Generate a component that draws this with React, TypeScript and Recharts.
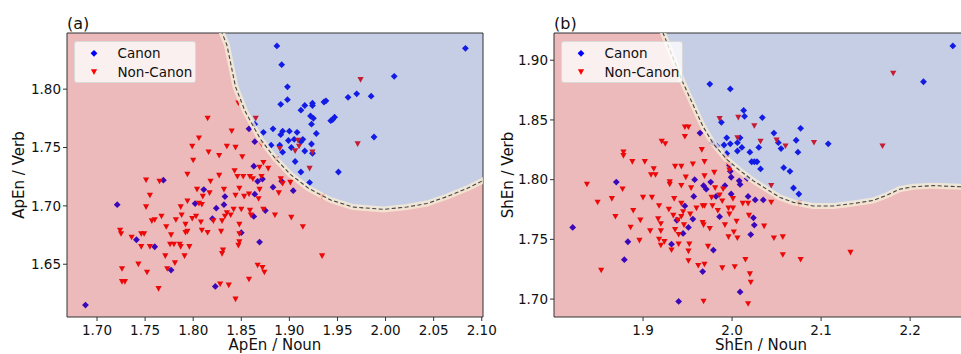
import React from "react";
import { Area, ComposedChart, Line, ReferenceArea, Scatter, XAxis, YAxis } from "recharts";

const FONT = '"DejaVu Sans", sans-serif';

// panel (a): ApEn
const canonA = [
  [1.887, 1.837], [2.083, 1.835], [1.892, 1.821], [2.009, 1.811], [1.898, 1.802], [1.97, 1.796],
  [1.961, 1.793], [1.985, 1.794], [1.898, 1.791], [1.891, 1.787], [1.916, 1.786], [1.924, 1.788],
  [1.924, 1.786], [1.936, 1.789], [1.938, 1.79], [1.912, 1.782], [1.922, 1.777], [1.925, 1.775],
  [1.947, 1.776], [1.945, 1.774], [1.943, 1.773], [1.923, 1.77], [1.864, 1.77], [1.858, 1.766],
  [1.873, 1.763], [1.883, 1.766], [1.893, 1.764], [1.9, 1.764], [1.908, 1.763], [1.928, 1.762],
  [1.891, 1.761], [1.988, 1.759], [1.864, 1.755], [1.899, 1.756], [1.905, 1.757], [1.914, 1.757],
  [1.912, 1.755], [1.881, 1.752], [1.923, 1.753], [1.89, 1.752], [1.902, 1.75], [1.893, 1.746],
  [1.916, 1.747], [1.924, 1.745], [1.906, 1.738], [1.863, 1.734], [1.912, 1.729], [1.951, 1.729],
  [1.872, 1.723], [1.867, 1.721], [1.892, 1.721], [1.921, 1.72], [1.883, 1.716], [1.904, 1.713],
  [1.833, 1.708], [1.864, 1.71], [1.832, 1.701], [1.875, 1.696], [1.863, 1.691], [1.769, 1.722],
  [1.811, 1.714], [1.802, 1.702], [1.721, 1.701], [1.824, 1.698], [1.82, 1.689], [1.741, 1.671],
  [1.76, 1.665], [1.85, 1.677], [1.869, 1.669], [1.777, 1.645], [1.823, 1.631], [1.688, 1.615],
];

const nonCanonA = [
  [1.815, 1.775], [1.806, 1.758], [1.974, 1.808], [1.847, 1.788], [1.865, 1.775], [1.84, 1.764],
  [1.909, 1.756], [1.871, 1.753], [1.971, 1.753], [1.835, 1.751], [1.844, 1.75], [1.89, 1.749],
  [1.91, 1.751], [1.906, 1.747], [1.924, 1.746], [1.886, 1.74], [1.851, 1.742], [1.873, 1.737],
  [1.921, 1.732], [1.869, 1.733], [1.878, 1.732], [1.843, 1.73], [1.846, 1.725], [1.859, 1.725],
  [1.852, 1.725], [1.862, 1.723], [1.871, 1.725], [1.891, 1.723], [1.893, 1.719], [1.901, 1.72],
  [1.832, 1.714], [1.848, 1.715], [1.858, 1.71], [1.869, 1.714], [1.889, 1.711], [1.844, 1.709],
  [1.853, 1.708], [1.868, 1.706], [1.934, 1.708], [1.842, 1.697], [1.85, 1.697], [1.859, 1.696],
  [1.873, 1.697], [1.835, 1.694], [1.833, 1.691], [1.839, 1.692], [1.86, 1.692], [1.885, 1.692],
  [1.902, 1.69], [1.848, 1.684], [1.83, 1.687], [1.799, 1.751], [1.816, 1.746], [1.827, 1.743],
  [1.8, 1.739], [1.794, 1.727], [1.751, 1.722], [1.765, 1.721], [1.818, 1.721], [1.827, 1.726],
  [1.755, 1.709], [1.804, 1.714], [1.817, 1.711], [1.794, 1.704], [1.806, 1.702], [1.809, 1.701],
  [1.81, 1.708], [1.751, 1.699], [1.787, 1.699], [1.767, 1.691], [1.757, 1.687], [1.76, 1.688],
  [1.782, 1.688], [1.788, 1.692], [1.799, 1.689], [1.803, 1.691], [1.808, 1.686], [1.821, 1.687],
  [1.772, 1.682], [1.792, 1.684], [1.724, 1.679], [1.725, 1.676], [1.746, 1.676], [1.749, 1.676],
  [1.777, 1.675], [1.794, 1.678], [1.792, 1.677], [1.809, 1.679], [1.815, 1.677], [1.829, 1.678],
  [1.914, 1.682], [1.736, 1.673], [1.746, 1.665], [1.755, 1.665], [1.776, 1.667], [1.78, 1.667],
  [1.786, 1.667], [1.787, 1.665], [1.796, 1.665], [1.848, 1.676], [1.848, 1.669], [1.847, 1.666],
  [1.831, 1.662], [1.83, 1.659], [1.771, 1.657], [1.791, 1.657], [1.934, 1.657], [1.743, 1.65],
  [1.781, 1.651], [1.726, 1.646], [1.773, 1.646], [1.752, 1.643], [1.867, 1.649], [1.872, 1.647],
  [1.874, 1.643], [1.726, 1.635], [1.729, 1.635], [1.858, 1.637], [1.828, 1.633], [1.837, 1.632],
  [1.764, 1.629], [1.844, 1.62],
];

const boundaryA = [
  [1.828, 1.852], [1.83, 1.848], [1.835, 1.838], [1.844, 1.802], [1.854, 1.781], [1.87, 1.757],
  [1.885, 1.741], [1.901, 1.727], [1.92, 1.715], [1.943, 1.705], [1.966, 1.699], [1.998, 1.697],
  [2.022, 1.699], [2.043, 1.702], [2.064, 1.708], [2.085, 1.715], [2.102, 1.722], [2.11, 1.726],
];

// panel (b): ShEn
const canonB = [
  [2.248, 1.912], [2.215, 1.882], [1.975, 1.88], [1.998, 1.876], [2.013, 1.858], [2.014, 1.853],
  [2.034, 1.852], [1.988, 1.848], [2.077, 1.843], [1.964, 1.839], [2.047, 1.839], [1.994, 1.835],
  [2.009, 1.835], [2.072, 1.833], [1.978, 1.831], [1.983, 1.828], [1.991, 1.829], [1.998, 1.83],
  [2.006, 1.831], [2.052, 1.831], [2.108, 1.83], [2.011, 1.827], [2.006, 1.824], [2.03, 1.827],
  [2.055, 1.826], [2.02, 1.823], [2.074, 1.823], [1.994, 1.822], [2.022, 1.815], [2.028, 1.815],
  [2.025, 1.815], [1.997, 1.812], [2.058, 1.81], [2.065, 1.807], [2.032, 1.809], [1.998, 1.807],
  [1.999, 1.802], [2.017, 1.801], [1.958, 1.8], [1.976, 1.798], [2.008, 1.799], [2.009, 1.796],
  [1.968, 1.795], [1.992, 1.795], [1.971, 1.792], [2.069, 1.793], [2.075, 1.788], [1.947, 1.778],
  [1.957, 1.786], [1.982, 1.786], [1.999, 1.788], [2.018, 1.786], [2.026, 1.783], [2.035, 1.783],
  [1.986, 1.769], [2.024, 1.768], [1.956, 1.767], [1.87, 1.798], [1.938, 1.766], [1.821, 1.76],
  [1.879, 1.733], [1.883, 1.748], [1.932, 1.746], [1.945, 1.755], [1.951, 1.76], [1.967, 1.723],
  [1.979, 1.741], [1.94, 1.698], [2.009, 1.706], [2.021, 1.754], [2.025, 1.762],
];

const nonCanonB = [
  [2.181, 1.889], [1.986, 1.851], [2.007, 1.852], [2.025, 1.845], [1.947, 1.844], [1.951, 1.844],
  [1.947, 1.836], [2.006, 1.835], [2.032, 1.832], [2.05, 1.833], [2.06, 1.828], [2.092, 1.831],
  [2.169, 1.828], [1.966, 1.825], [1.993, 1.818], [1.969, 1.815], [1.956, 1.813], [1.943, 1.811],
  [1.996, 1.813], [1.997, 1.808], [1.98, 1.806], [1.948, 1.802], [1.969, 1.803], [1.943, 1.795],
  [1.954, 1.793], [1.981, 1.793], [1.99, 1.792], [2.044, 1.795], [1.986, 1.787], [2.001, 1.784],
  [1.977, 1.785], [1.943, 1.78], [1.967, 1.778], [1.989, 1.782], [1.996, 1.776], [2.001, 1.776],
  [2.012, 1.78], [2.018, 1.78], [2.044, 1.781], [2.075, 1.78], [1.945, 1.773], [1.96, 1.776],
  [1.969, 1.778], [1.978, 1.778], [1.984, 1.774], [1.997, 1.771], [2.019, 1.77], [2.005, 1.765],
  [1.953, 1.771], [1.943, 1.769], [1.967, 1.764], [1.878, 1.823], [1.878, 1.82], [1.921, 1.832],
  [1.925, 1.83], [1.888, 1.815], [1.902, 1.815], [1.912, 1.809], [1.909, 1.804], [1.914, 1.804],
  [1.936, 1.811], [1.837, 1.796], [1.849, 1.781], [1.865, 1.784], [1.877, 1.792], [1.869, 1.769],
  [1.889, 1.774], [1.9, 1.785], [1.91, 1.785], [1.918, 1.778], [1.93, 1.798], [1.93, 1.796],
  [1.935, 1.784], [1.929, 1.775], [1.934, 1.77], [1.939, 1.766], [1.897, 1.766], [1.917, 1.767],
  [1.853, 1.724], [1.886, 1.76], [1.896, 1.749], [1.908, 1.757], [1.92, 1.757], [1.918, 1.75],
  [1.924, 1.748], [1.936, 1.758], [1.94, 1.754], [1.94, 1.746], [1.952, 1.746], [1.951, 1.74],
  [1.951, 1.732], [1.962, 1.728], [1.969, 1.729], [1.973, 1.744], [1.989, 1.726], [1.968, 1.698],
  [2.003, 1.727], [1.996, 1.752], [2.002, 1.756], [2.006, 1.751], [2.015, 1.733], [2.02, 1.721],
  [2.021, 1.714], [2.018, 1.696], [2.036, 1.761], [2.047, 1.751], [2.057, 1.752], [2.057, 1.737],
  [2.077, 1.733], [1.992, 1.762], [1.975, 1.759], [1.968, 1.762], [1.92, 1.763], [1.946, 1.762],
  [1.92, 1.745], [1.932, 1.741], [2.133, 1.739],
];

const boundaryB = [
  [1.92, 1.926], [1.9225, 1.9228], [1.945, 1.881], [1.967, 1.845], [1.979, 1.83], [1.994, 1.817],
  [2.009, 1.8075], [2.024, 1.799], [2.039, 1.792], [2.054, 1.785], [2.069, 1.781], [2.091, 1.778],
  [2.114, 1.778], [2.136, 1.78], [2.158, 1.7825], [2.174, 1.787], [2.188, 1.792], [2.203, 1.794],
  [2.226, 1.795], [2.257, 1.794], [2.275, 1.793],
];

const xTicksA = [1.7, 1.75, 1.8, 1.85, 1.9, 1.95, 2.0, 2.05, 2.1];
const yTicksA = [1.65, 1.7, 1.75, 1.8];
const xTicksB = [1.9, 2.0, 2.1, 2.2];
const yTicksB = [1.7, 1.75, 1.8, 1.85, 1.9];

const toPts = (arr: number[][]) => arr.map(([x, y]) => ({ x, y }));

// region table: red below the boundary, blue above it
function buildRows(boundary: number[][], xDomain: number[], yDomain: number[]) {
  const lo = yDomain[0] - 0.02;
  const hi = yDomain[1] + 0.02;
  const rows = [{ x: xDomain[0] - 0.02, b: hi, red: [lo, hi], blue: [hi, hi] }];
  boundary.forEach(([x, y]) => rows.push({ x, b: y, red: [lo, y], blue: [y, hi] }));
  return rows;
}

const Diamond = (props: any) => {
  const { cx, cy } = props;
  const r = 3.4;
  return <path d={`M${cx},${cy - r}L${cx + r},${cy}L${cx},${cy + r}L${cx - r},${cy}Z`} fill="#0000ff" />;
};

const TriDown = (props: any) => {
  const { cx, cy } = props;
  return <path d={`M${cx - 3.1},${cy - 2.7}L${cx + 3.1},${cy - 2.7}L${cx},${cy + 2.9}Z`} fill="#ff0000" />;
};

function LegendBox({ left }: { left: number }) {
  const text = { position: "absolute" as const, left: 43, fontSize: 13.5, lineHeight: "14px", color: "#111" };
  return (
    <div
      style={{
        position: "absolute",
        left,
        top: 41,
        width: 122,
        height: 42,
        boxSizing: "border-box",
        background: "rgba(255,255,255,0.78)",
        border: "1px solid rgba(210,210,210,0.8)",
        borderRadius: 3,
        fontFamily: FONT,
      }}
    >
      <svg width={20} height={40} style={{ position: "absolute", left: 9, top: 0 }}>
        <Diamond cx={10} cy={11.3} />
        <TriDown cx={10} cy={30} />
      </svg>
      <span style={{ ...text, top: 4 }}>Canon</span>
      <span style={{ ...text, top: 23 }}>Non-Canon</span>
    </div>
  );
}

function Panel(p: any) {
  const rows = buildRows(p.boundary, p.xDomain, p.yDomain);
  const tick = { fill: "#111", fontSize: 13.5, fontFamily: FONT };
  const labelStyle = { fill: "#111", fontSize: 15, fontFamily: FONT };
  return (
    <div style={{ position: "absolute", left: p.left, top: 0, width: p.width, height: 354 }}>
      <ComposedChart width={p.width} height={354} data={rows} margin={{ top: 33, right: p.marginRight, bottom: 0, left: 0 }}>
        <XAxis
          type="number"
          dataKey="x"
          domain={p.xDomain}
          ticks={p.xTicks}
          interval={0}
          allowDataOverflow
          tickFormatter={(v: number) => v.toFixed(p.xDigits)}
          axisLine={false}
          tickLine={{ stroke: "#333" }}
          tickSize={4}
          tickMargin={4}
          height={37}
          tick={tick}
          label={{ value: p.xLabel, position: "insideBottom", offset: 4, style: labelStyle }}
        />
        <YAxis
          type="number"
          domain={p.yDomain}
          ticks={p.yTicks}
          interval={0}
          allowDataOverflow
          tickFormatter={(v: number) => v.toFixed(2)}
          axisLine={false}
          tickLine={{ stroke: "#333" }}
          tickSize={4}
          tickMargin={2}
          width={p.yWidth}
          tick={tick}
          label={{ value: p.yLabel, angle: -90, position: "insideLeft", offset: p.yLabelOffset, style: { ...labelStyle, textAnchor: "middle" } }}
        />
        <Scatter data={toPts(p.canon)} dataKey="y" shape={Diamond} isAnimationActive={false} zIndex={50} />
        <Scatter data={toPts(p.nonCanon)} dataKey="y" shape={TriDown} isAnimationActive={false} zIndex={50} />
        <Area dataKey="red" type="linear" stroke="none" fill="#c0191c" fillOpacity={0.3} dot={false} activeDot={false} isAnimationActive={false} />
        <Area dataKey="blue" type="linear" stroke="none" fill="#3e5ca8" fillOpacity={0.3} dot={false} activeDot={false} isAnimationActive={false} />
        <Line dataKey="b" type="linear" stroke="#f6ecd6" strokeOpacity={0.8} strokeWidth={6} dot={false} activeDot={false} isAnimationActive={false} />
        <Line dataKey="b" type="linear" stroke="#444" strokeWidth={1.1} strokeDasharray="4 2.5" dot={false} activeDot={false} isAnimationActive={false} />
        <ReferenceArea x1={p.xDomain[0]} x2={p.xDomain[1]} y1={p.yDomain[0]} y2={p.yDomain[1]} fill="none" stroke="#333" strokeWidth={1} />
      </ComposedChart>
      <div style={{ position: "absolute", left: p.yWidth, top: 16, fontFamily: FONT, fontSize: 16, lineHeight: "16px", color: "#111" }}>
        {p.title}
      </div>
      <LegendBox left={p.yWidth + 6.5} />
    </div>
  );
}

export default function App() {
  return (
    <div style={{ position: "absolute", left: 0, top: 0, width: 961, height: 354, overflow: "hidden", background: "#fff" }}>
      <Panel
        left={0}
        width={502}
        marginRight={19}
        yWidth={67}
        title="(a)"
        xLabel="ApEn / Noun"
        yLabel="ApEn / Verb"
        yLabelOffset={19}
        xDomain={[1.6688, 2.1013]}
        yDomain={[1.6048, 1.8481]}
        xTicks={xTicksA}
        yTicks={yTicksA}
        xDigits={2}
        boundary={boundaryA}
        canon={canonA}
        nonCanon={nonCanonA}
      />
      <Panel
        left={490}
        width={490}
        marginRight={12}
        yWidth={64}
        title="(b)"
        xLabel="ShEn / Noun"
        yLabel="ShEn / Verb"
        yLabelOffset={18}
        xDomain={[1.8, 2.265]}
        yDomain={[1.685, 1.9228]}
        xTicks={xTicksB}
        yTicks={yTicksB}
        xDigits={1}
        boundary={boundaryB}
        canon={canonB}
        nonCanon={nonCanonB}
      />
    </div>
  );
}
